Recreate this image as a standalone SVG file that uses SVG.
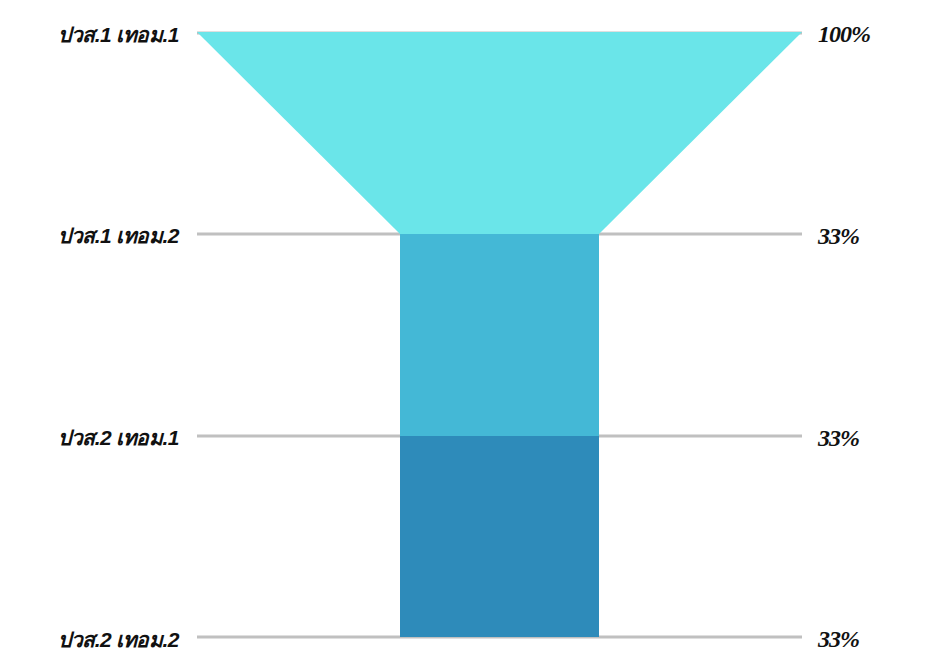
<svg xmlns="http://www.w3.org/2000/svg" width="928" height="657" viewBox="0 0 928 657">
<style>
.grid{stroke:#c0c0c0;stroke-width:3;fill:none}
.lbl{font-family:"Liberation Sans","Noto Sans",sans-serif;font-size:21px;font-weight:bold;font-style:italic;fill:#111;text-anchor:end;letter-spacing:-0.5px}
.pct{font-family:"Liberation Serif","DejaVu Serif",serif;font-size:24px;font-weight:bold;font-style:italic;fill:#111;letter-spacing:-1px}
</style>
<rect width="928" height="657" fill="#ffffff"/>
<g id="connectors">
<line class="grid" x1="197" y1="33" x2="802" y2="33"/>
<line class="grid" x1="197" y1="234" x2="802" y2="234"/>
<line class="grid" x1="197" y1="436" x2="802" y2="436"/>
<line class="grid" x1="197" y1="637" x2="802" y2="637"/>
</g>
<g id="stage1">
<polygon points="197,32 802,32 599,234 400,234" fill="#6ae5e9"/>
<text class="lbl" x="179" y="42">ปวส.1 เทอม.1</text>
<text class="pct" x="818" y="42">100%</text>
</g>
<g id="stage2">
<rect x="400" y="234" width="199" height="202" fill="#44b8d6"/>
<text class="lbl" x="179" y="243">ปวส.1 เทอม.2</text>
<text class="pct" x="818" y="244">33%</text>
</g>
<g id="stage3">
<rect x="400" y="436" width="199" height="201" fill="#2e8bba"/>
<text class="lbl" x="179" y="445">ปวส.2 เทอม.1</text>
<text class="pct" x="818" y="446">33%</text>
</g>
<g id="stage4">
<text class="lbl" x="179" y="647">ปวส.2 เทอม.2</text>
<text class="pct" x="818" y="647">33%</text>
</g>
</svg>
